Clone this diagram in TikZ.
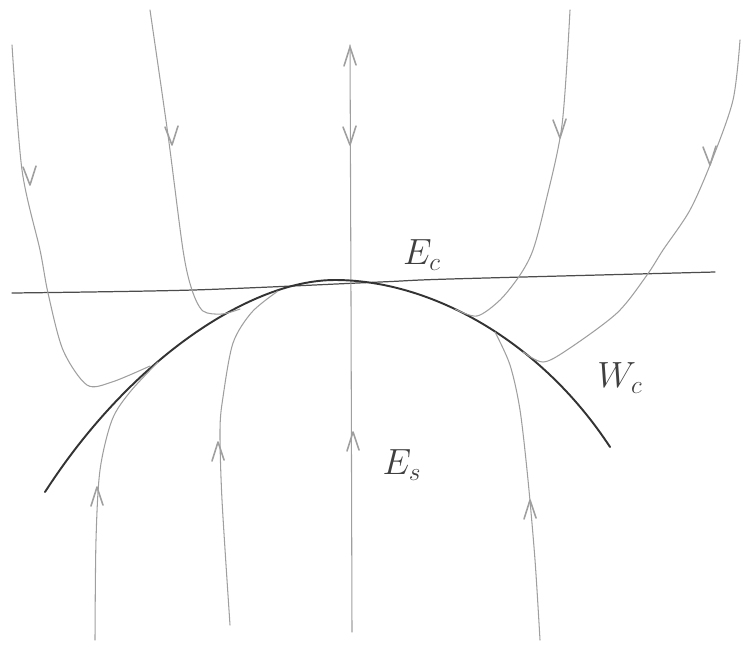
\documentclass[tikz,border=0pt]{standalone}
\usepackage{amsmath}

\begin{document}
\begin{tikzpicture}[x=0.02cm,y=-0.02cm,line cap=round,line join=round]
\useasboundingbox (0,0) rectangle (749,646);
\tikzset{traj/.style={gray!75,line width=0.6pt},
  axis/.style={black!70,line width=0.7pt},
  manif/.style={black!80,line width=1.1pt}}

% --- Axes E_c and E_s ---
\draw[axis] plot[smooth] coordinates {(12,293) (193,290) (380,282) (450,279) (715,272)};
\draw[traj] (350,45) -- (351,300) -- (352,632);

% --- Centre manifold W_c ---
\draw[manif] (45,492) .. controls (130,360) and (250,280) .. (335,280)
  .. controls (430,280) and (540,340) .. (610,447);

% --- Orbits from above ---
\draw[traj] plot[smooth] coordinates {(12,45) (22,170) (40,250) (48,293) (63,350) (87,385) (112,382) (150,366)};
\draw[traj] plot[smooth] coordinates {(150,10) (168,135) (183,250) (192,290) (203,311) (222,314) (240,309)};
\draw[traj] plot[smooth] coordinates {(570,10) (562,125) (545,205) (533,250) (520,275) (500,300) (477,316) (455,309)};
\draw[traj] plot[smooth] coordinates {(740,40) (733,100) (712,160) (690,210) (663,250) (647,275) (617,313) (567,350) (543,362) (523,352)};

% --- Orbits from below ---
\draw[traj] plot[smooth] coordinates {(95,640) (96,540) (100,470) (112,420) (130,392) (158,362)};
\draw[traj] plot[smooth] coordinates {(230,625) (222,500) (220,430) (223,397) (233,343) (252,312) (278,291)};
\draw[traj] plot[smooth] coordinates {(540,640) (535,560) (528,480) (520,410) (510,365) (495,332)};

% --- Arrow marks ---
\foreach \x/\y in {30/185,172/145,350/145,560/138,710/165}
  \draw[traj,line width=0.9pt] (\x-7,\y-18) -- (\x,\y) -- (\x+6,\y-19);
\foreach \x/\y in {350/47,97/487,218/442,353/432,530/500}
  \draw[traj,line width=0.9pt] (\x-6,\y+19) -- (\x,\y) -- (\x+6,\y+18);

% --- Labels ---
\node[black!75] (ec) at (422,255) {\huge $E_c$};
\node[black!75] (wc) at (620,378) {\huge $W_c$};
\node[black!75] (es) at (402,465) {\huge $E_s$};
\end{tikzpicture}
\end{document}
